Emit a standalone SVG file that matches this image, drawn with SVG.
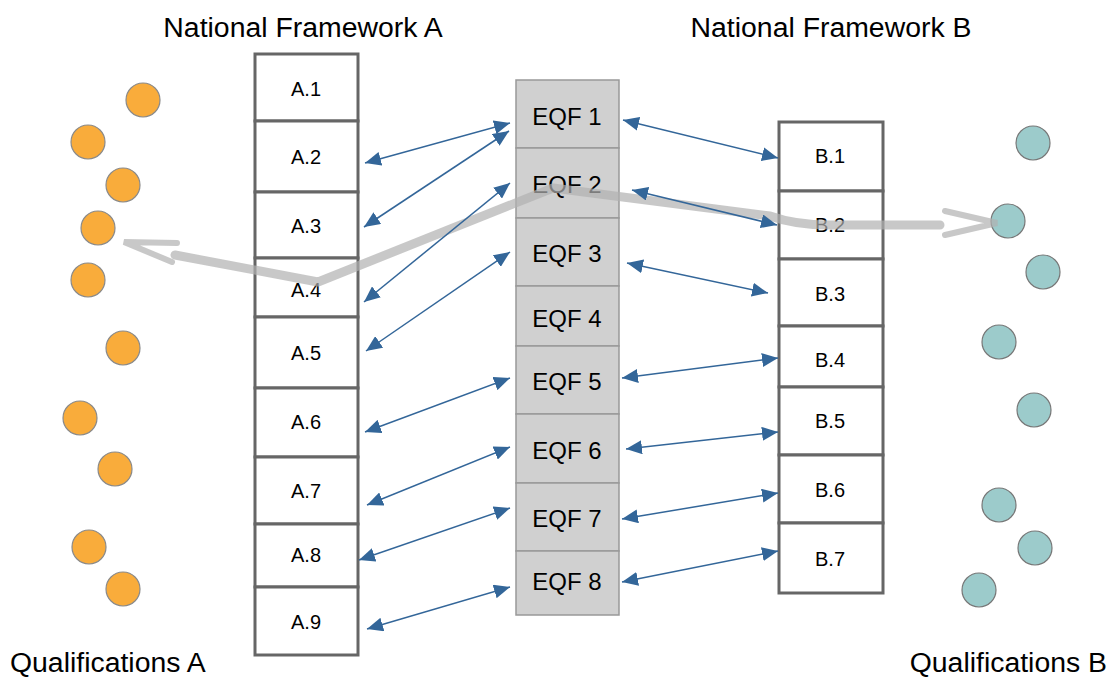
<svg xmlns="http://www.w3.org/2000/svg" width="1110" height="677" viewBox="0 0 1110 677">
<style>
text{font-family:"Liberation Sans",Arial,sans-serif;fill:#000}
.title{font-size:28.4px}
.lab{font-size:20px;text-anchor:middle}
.eqf{font-size:24px;text-anchor:middle}
.box{fill:#fff;stroke:#666;stroke-width:3}
.ebox{fill:#d0d0d0;stroke:#999;stroke-width:1.5}
.qa{fill:#f9ac3b;stroke:#8a8a8a;stroke-width:1.2}
.qb{fill:#9ccbcb;stroke:#777;stroke-width:1.2}
.conn line{stroke:#336699;stroke-width:1.5;marker-start:url(#ah);marker-end:url(#ah)}
.flow{fill:none;stroke:#b0b0b0;stroke-width:9;opacity:0.7;stroke-linejoin:round;stroke-linecap:round}
.chev{fill:none;stroke:#b0b0b0;stroke-width:6;opacity:0.7;stroke-linecap:round;stroke-linejoin:miter}
</style>
<defs>
<marker id="ah" viewBox="0 0 16 14" refX="16" refY="7" markerWidth="16" markerHeight="14" markerUnits="userSpaceOnUse" orient="auto-start-reverse">
<path d="M0,0 L16,7 L0,14 z" fill="#336699"/>
</marker>
</defs>
<rect width="1110" height="677" fill="#fff"/>

<text class="title" x="303" y="37" text-anchor="middle">National Framework A</text>
<text class="title" x="831" y="37" text-anchor="middle">National Framework B</text>
<text class="title" x="10" y="672">Qualifications A</text>
<text class="title" x="1107" y="672" text-anchor="end">Qualifications B</text>

<g id="qualifications-a">
<circle class="qa" cx="143" cy="100" r="17"/>
<circle class="qa" cx="88" cy="142" r="17"/>
<circle class="qa" cx="123" cy="185" r="17"/>
<circle class="qa" cx="98" cy="228" r="17"/>
<circle class="qa" cx="88" cy="280" r="17"/>
<circle class="qa" cx="123" cy="348" r="17"/>
<circle class="qa" cx="80" cy="418" r="17"/>
<circle class="qa" cx="115" cy="469" r="17"/>
<circle class="qa" cx="89" cy="547" r="17"/>
<circle class="qa" cx="123" cy="589" r="17"/>
</g>
<g id="qualifications-b">
<circle class="qb" cx="1033" cy="143" r="17"/>
<circle class="qb" cx="1008" cy="221" r="17"/>
<circle class="qb" cx="1043" cy="272" r="17"/>
<circle class="qb" cx="999" cy="342" r="17"/>
<circle class="qb" cx="1034" cy="410" r="17"/>
<circle class="qb" cx="999" cy="505" r="17"/>
<circle class="qb" cx="1035" cy="548" r="17"/>
<circle class="qb" cx="979" cy="590" r="17"/>
</g>

<g id="A1"><rect class="box" x="255" y="54" width="103" height="67"/><text class="lab" x="306" y="96">A.1</text></g>
<g id="A2"><rect class="box" x="255" y="121" width="103" height="71"/><text class="lab" x="306" y="164">A.2</text></g>
<g id="A3"><rect class="box" x="255" y="192" width="103" height="66"/><text class="lab" x="306" y="233">A.3</text></g>
<g id="A4"><rect class="box" x="255" y="258" width="103" height="59"/><text class="lab" x="306" y="297">A.4</text></g>
<g id="A5"><rect class="box" x="255" y="317" width="103" height="71"/><text class="lab" x="306" y="360">A.5</text></g>
<g id="A6"><rect class="box" x="255" y="388" width="103" height="69"/><text class="lab" x="306" y="429">A.6</text></g>
<g id="A7"><rect class="box" x="255" y="457" width="103" height="67"/><text class="lab" x="306" y="498">A.7</text></g>
<g id="A8"><rect class="box" x="255" y="524" width="103" height="63"/><text class="lab" x="306" y="562">A.8</text></g>
<g id="A9"><rect class="box" x="255" y="587" width="103" height="68"/><text class="lab" x="306" y="629">A.9</text></g>

<g id="EQF1"><rect class="ebox" x="516" y="80" width="103" height="68"/><text class="eqf" x="567" y="124.5">EQF 1</text></g>
<g id="EQF2"><rect class="ebox" x="516" y="148" width="103" height="70"/><text class="eqf" x="567" y="192.5">EQF 2</text></g>
<g id="EQF3"><rect class="ebox" x="516" y="218" width="103" height="68"/><text class="eqf" x="567" y="261.5">EQF 3</text></g>
<g id="EQF4"><rect class="ebox" x="516" y="286" width="103" height="60"/><text class="eqf" x="567" y="326.5">EQF 4</text></g>
<g id="EQF5"><rect class="ebox" x="516" y="346" width="103" height="68"/><text class="eqf" x="567" y="389.5">EQF 5</text></g>
<g id="EQF6"><rect class="ebox" x="516" y="414" width="103" height="69"/><text class="eqf" x="567" y="458.5">EQF 6</text></g>
<g id="EQF7"><rect class="ebox" x="516" y="483" width="103" height="68"/><text class="eqf" x="567" y="526.5">EQF 7</text></g>
<g id="EQF8"><rect class="ebox" x="516" y="551" width="103" height="64"/><text class="eqf" x="567" y="589.5">EQF 8</text></g>

<g id="B1"><rect class="box" x="779" y="122" width="104" height="69"/><text class="lab" x="830" y="163">B.1</text></g>
<g id="B2"><rect class="box" x="779" y="191" width="104" height="68"/><text class="lab" x="830" y="232">B.2</text></g>
<g id="B3"><rect class="box" x="779" y="259" width="104" height="67"/><text class="lab" x="830" y="301">B.3</text></g>
<g id="B4"><rect class="box" x="779" y="326" width="104" height="61"/><text class="lab" x="830" y="367">B.4</text></g>
<g id="B5"><rect class="box" x="779" y="387" width="104" height="68"/><text class="lab" x="830" y="428">B.5</text></g>
<g id="B6"><rect class="box" x="779" y="455" width="104" height="68"/><text class="lab" x="830" y="497">B.6</text></g>
<g id="B7"><rect class="box" x="779" y="523" width="104" height="70"/><text class="lab" x="830" y="566">B.7</text></g>

<g id="flow">
<path class="flow" d="M175,255 L318,282 L553,188 L770,216 Q795,225 830,225 L940,225"/>
<path class="chev" d="M177,243 L124,242 L172,262"/>
<path class="chev" d="M945,211 L997,223 L945,235"/>
</g>

<g id="connectors" class="conn">
<line x1="365" y1="163" x2="510" y2="123"/>
<line x1="364" y1="227" x2="509" y2="131"/>
<line x1="364" y1="302" x2="510" y2="183"/>
<line x1="366" y1="351" x2="510" y2="252"/>
<line x1="365" y1="432" x2="510" y2="378"/>
<line x1="367" y1="505" x2="510" y2="447"/>
<line x1="359" y1="560" x2="510" y2="508"/>
<line x1="367" y1="629" x2="510" y2="587"/>
<line x1="623" y1="120" x2="778" y2="158"/>
<line x1="632" y1="190" x2="777" y2="225"/>
<line x1="627" y1="263" x2="768" y2="293"/>
<line x1="622" y1="378" x2="778" y2="358"/>
<line x1="626" y1="449" x2="778" y2="432"/>
<line x1="622" y1="519" x2="778" y2="493"/>
<line x1="622" y1="582" x2="778" y2="551"/>
</g>
</svg>
